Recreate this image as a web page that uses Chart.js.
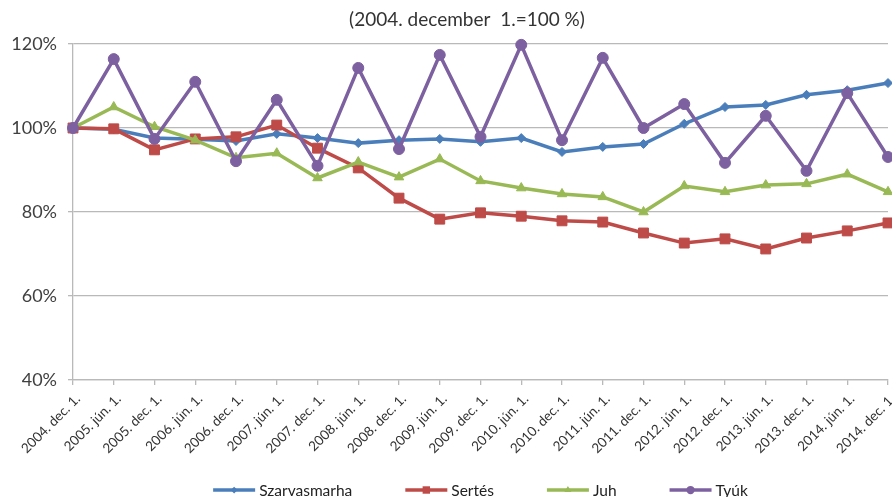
<!DOCTYPE html>
<html>
<head>
<meta charset="utf-8">
<script src="https://cdn.jsdelivr.net/npm/chart.js@4.4.1/dist/chart.umd.min.js"></script>
<style>
  html, body { margin: 0; padding: 0; background: #fff; }
  #wrap { width: 892px; height: 497px; }
</style>
</head>
<body>
<div id="wrap"><canvas id="indexChart"></canvas></div>
<script>
const periods = [
  '2004. dec. 1.', '2005. jún. 1.', '2005. dec. 1.', '2006. jún. 1.', '2006. dec. 1.',
  '2007. jún. 1.', '2007. dec. 1.', '2008. jún. 1.', '2008. dec. 1.', '2009. jún. 1.',
  '2009. dec. 1.', '2010. jún. 1.', '2010. dec. 1.', '2011. jún. 1.', '2011. dec. 1.',
  '2012. jún. 1.', '2012. dec. 1.', '2013. jún. 1.', '2013. dec. 1.', '2014. jún. 1.',
  '2014. dec. 1.'
];

const szarvasmarha = [100, 99.7, 97.6, 97.3, 96.9, 98.6, 97.6, 96.4, 97.1, 97.4, 96.7, 97.6, 94.3, 95.5, 96.2, 101, 105, 105.5, 107.9, 109, 110.7];
const sertes = [100, 99.8, 94.8, 97.4, 97.9, 100.7, 95.2, 90.5, 83.3, 78.3, 79.8, 79, 77.9, 77.6, 75, 72.6, 73.6, 71.2, 73.8, 75.5, 77.4];
const juh = [100, 105, 100.3, 97.1, 92.9, 94, 88.1, 91.9, 88.3, 92.6, 87.4, 85.7, 84.3, 83.6, 80, 86.2, 84.8, 86.4, 86.7, 89, 84.8];
const tyuk = [100, 116.4, 97.4, 111, 92.1, 106.7, 91, 114.3, 95, 117.4, 97.9, 119.8, 97.1, 116.7, 100, 105.7, 91.7, 102.9, 89.8, 108.3, 93.1];

const yTicks = [40, 60, 80, 100, 120];

const FONT = "Lato, 'Open Sans', sans-serif";
const GRID = '#b9b9b9';

const series = [
  { label: 'Szarvasmarha', data: szarvasmarha, color: '#4a7ebb', style: 'rectRot', radius: 4.5, order: 4 },
  { label: 'Sertés', data: sertes, color: '#be4b48', style: 'rect', radius: 7, order: 3 },
  { label: 'Juh', data: juh, color: '#98b954', style: 'triangle', radius: 5.5, order: 2 },
  { label: 'Tyúk', data: tyuk, color: '#7d60a0', style: 'circle', radius: 5.5, order: 1 }
];

// title above the plot and the legend row under the axis labels
const decorations = {
  id: 'decorations',
  afterDraw(chart) {
    const ctx = chart.ctx;
    const area = chart.chartArea;
    ctx.save();
    ctx.fillStyle = '#333';
    ctx.font = '19px ' + FONT;
    ctx.textAlign = 'center';
    ctx.textBaseline = 'middle';
    ctx.fillText('(2004. december  1.=100 %)', 467, 20);

    ctx.font = '15.5px ' + FONT;
    const lineLen = 42, textGap = 4, itemGap = 53;
    const widths = series.map(s => ctx.measureText(s.label).width);
    const total = widths.reduce((a, w) => a + lineLen + textGap + w, 0) + itemGap * (series.length - 1);
    let x = (area.left + area.right) / 2 - total / 2;
    const y = 490;
    ctx.textAlign = 'left';
    series.forEach((s, i) => {
      ctx.strokeStyle = s.color;
      ctx.lineWidth = 3.5;
      ctx.beginPath();
      ctx.moveTo(x, y);
      ctx.lineTo(x + lineLen, y);
      ctx.stroke();
      ctx.fillStyle = s.color;
      Chart.helpers.drawPoint(ctx, { pointStyle: s.style, radius: s.radius * 0.75, rotation: 0, borderWidth: 0 }, x + lineLen / 2, y);
      ctx.fillStyle = '#222';
      ctx.fillText(s.label, x + lineLen + textGap, y + 1);
      x += lineLen + textGap + widths[i] + itemGap;
    });
    ctx.restore();
  }
};

new Chart(document.getElementById('indexChart'), {
  type: 'line',
  data: {
    labels: periods,
    datasets: series.map(s => ({
      label: s.label,
      data: s.data,
      borderColor: s.color,
      backgroundColor: s.color,
      borderWidth: 3.5,
      pointStyle: s.style,
      pointRadius: s.radius,
      pointBackgroundColor: s.color,
      pointBorderColor: s.color,
      pointBorderWidth: 1,
      tension: 0,
      order: s.order,
      clip: false
    }))
  },
  options: {
    responsive: true,
    maintainAspectRatio: false,
    animation: false,
    layout: { autoPadding: false, padding: { top: 44, right: 4, bottom: 0, left: 0 } },
    plugins: {
      legend: { display: false },
      title: { display: false },
      tooltip: { enabled: false }
    },
    scales: {
      x: {
        offset: false,
        afterFit: (scale) => {
          scale.height = 117;
          scale.paddingLeft = 0;
          scale.paddingRight = 0;
        },
        grid: { drawOnChartArea: false, drawTicks: true, tickLength: 5, color: GRID, lineWidth: 1.3 },
        border: { color: GRID, width: 1.3 },
        ticks: {
          autoSkip: false,
          minRotation: 45,
          maxRotation: 45,
          padding: 6,
          labelOffset: 5,
          color: '#333',
          font: { family: FONT, size: 13.5 }
        }
      },
      y: {
        min: 40,
        max: 120,
        afterFit: (scale) => { scale.width = 73; },
        afterBuildTicks: (scale) => { scale.ticks = yTicks.map(v => ({ value: v })); },
        grid: { color: GRID, lineWidth: 1.3, tickLength: 5 },
        border: { color: GRID, width: 1.3 },
        ticks: {
          padding: 11,
          color: '#404040',
          font: { family: FONT, size: 18 },
          callback: (value) => value + '%'
        }
      }
    }
  },
  plugins: [decorations]
});
</script>
</body>
</html>
